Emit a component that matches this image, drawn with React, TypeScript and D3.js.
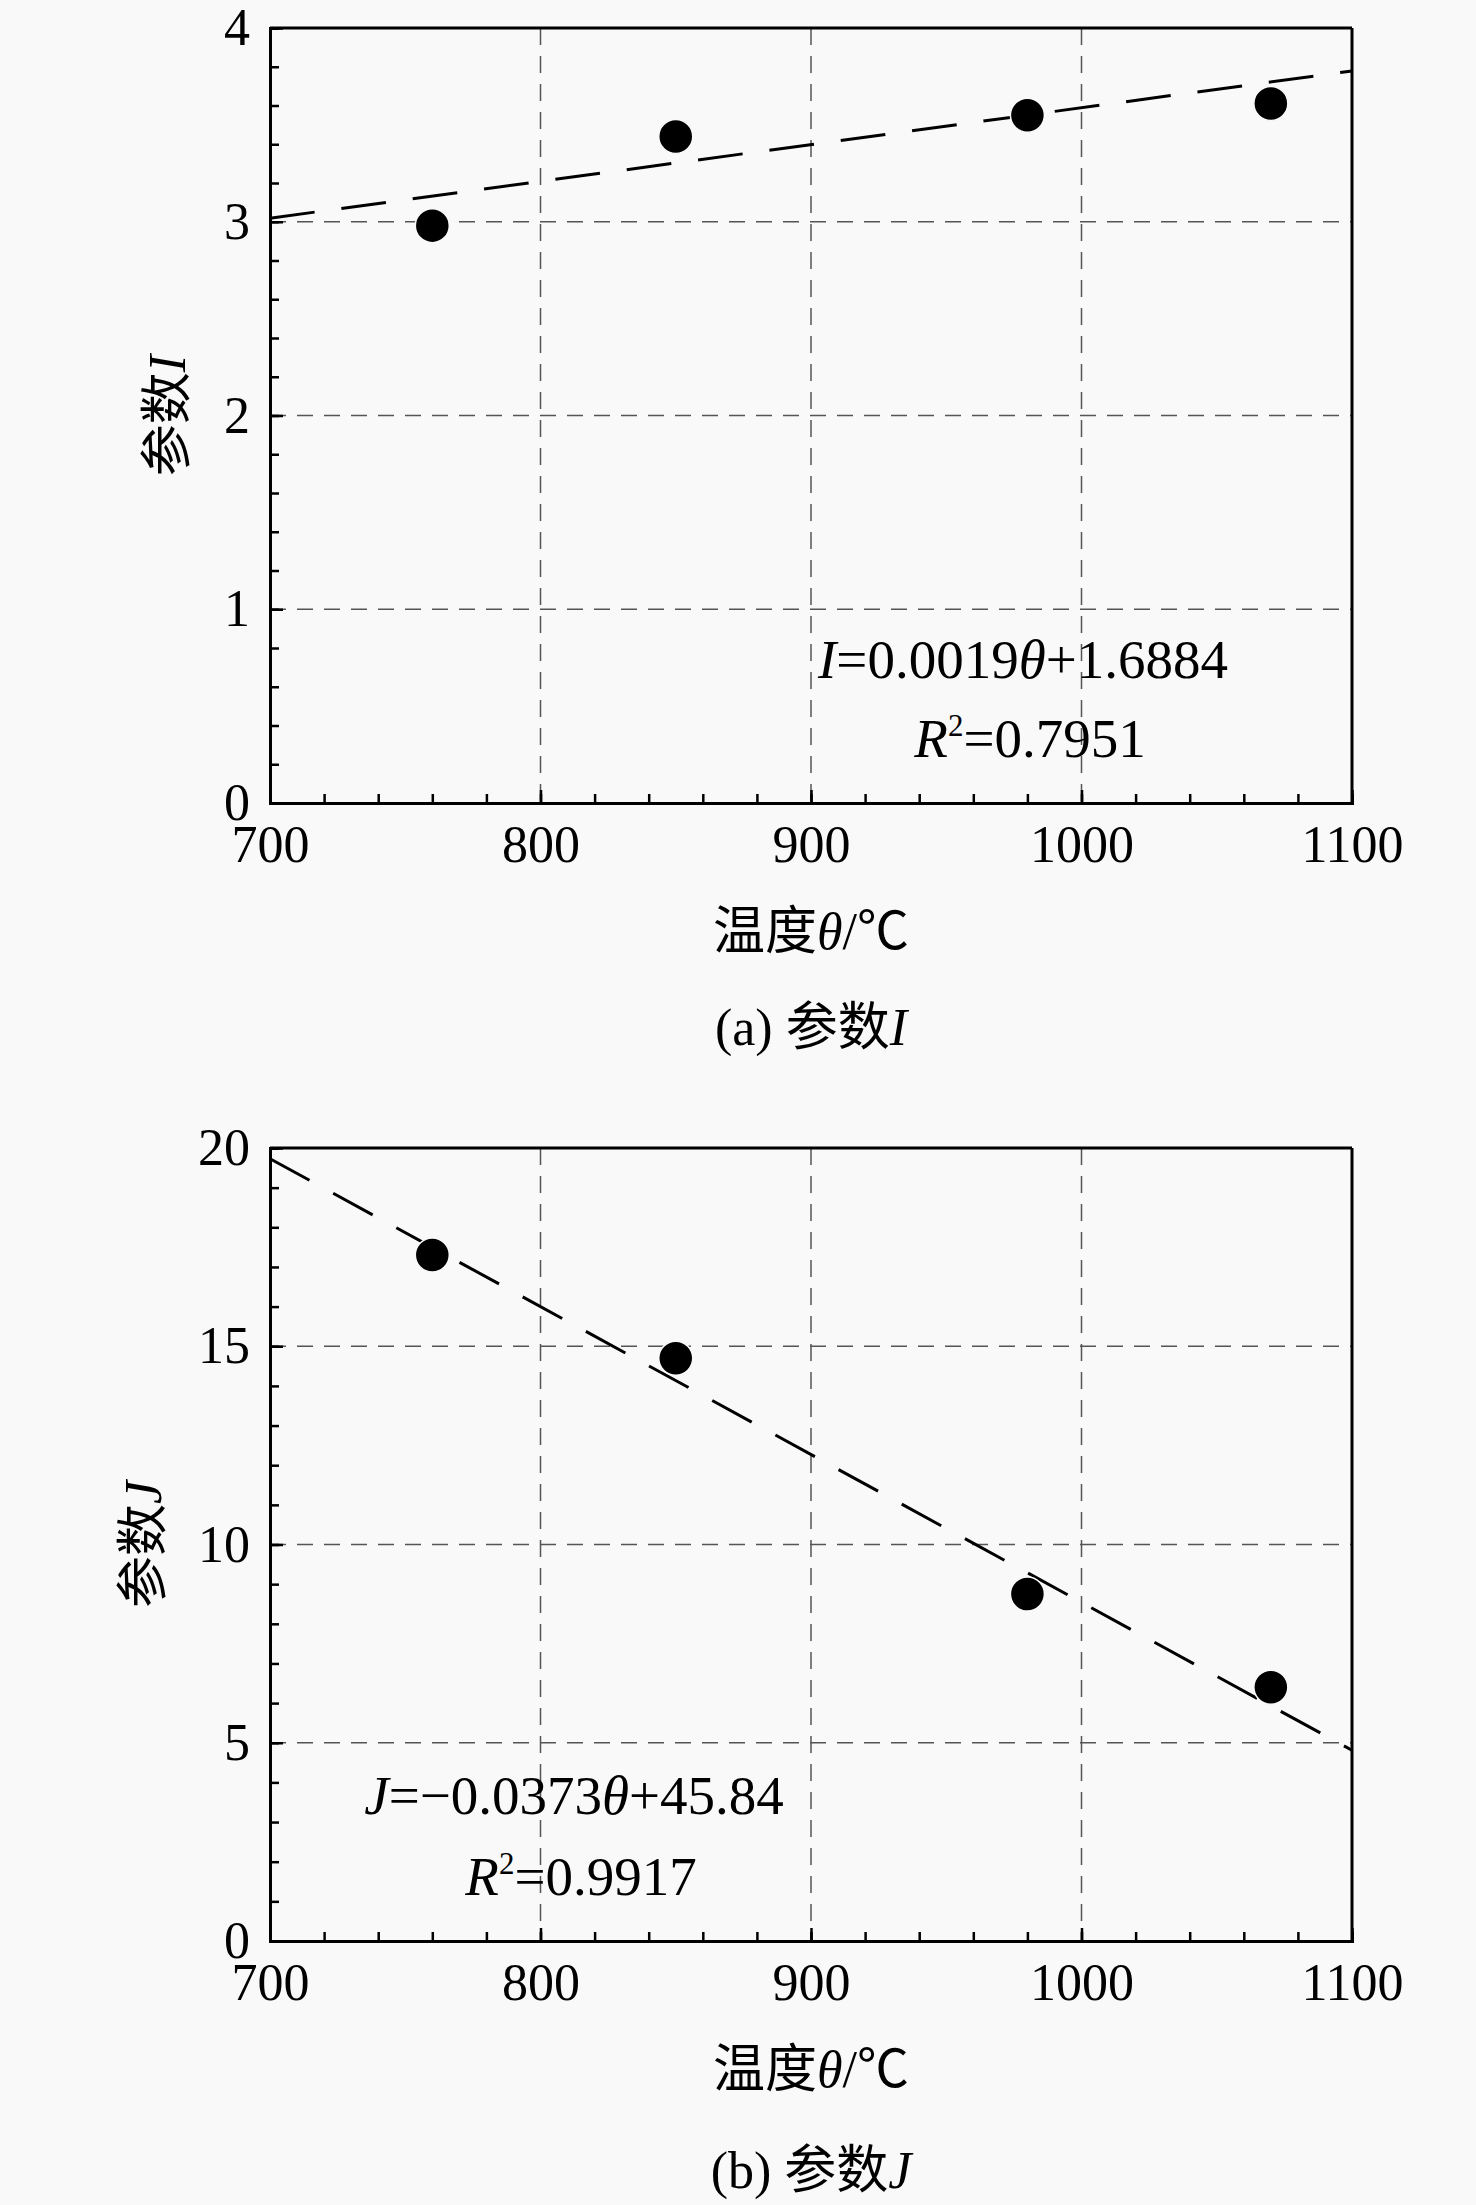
import React, { useRef, useEffect } from "react";
import * as d3 from "d3";

// ---------------------------------------------------------------------------
// DATA
// ---------------------------------------------------------------------------
const tempTicks = [700, 800, 900, 1000, 1100];
const sampleTemps = [760, 850, 980, 1070];
const paramI = [2.98, 3.44, 3.55, 3.61];
const paramJ = [17.3, 14.7, 8.75, 6.4];
const yTicksI = [0, 1, 2, 3, 4];
const yTicksJ = [0, 5, 10, 15, 20];
const fitI = { slope: 0.0019, intercept: 1.6884 };
const fitJ = { slope: -0.0373, intercept: 45.84 };

const W = 1476;
const H = 2205;
const FONT = "'Liberation Serif', 'Times New Roman', 'Noto Sans CJK SC', serif";

interface PanelCfg {
  top: number;
  bottom: number;
  yTicks: number[];
  yMinorStep: number;
  values: number[];
  fit: { slope: number; intercept: number };
  symbol: string;
  letter: string;
  slopeText: string;
  interceptText: string;
  r2Text: string;
  eqX: number;
  eqY: number;
  r2X: number;
  r2Y: number;
  yLabelX: number;
  captionY: number;
}

const panels: PanelCfg[] = [
  {
    top: 28,
    bottom: 803,
    yTicks: yTicksI,
    yMinorStep: 0.2,
    values: paramI,
    fit: fitI,
    symbol: "I",
    letter: "a",
    slopeText: "0.0019",
    interceptText: "+1.6884",
    r2Text: "=0.7951",
    eqX: 1023,
    eqY: 678,
    r2X: 1030,
    r2Y: 757,
    yLabelX: 185,
    captionY: 1045,
  },
  {
    top: 1148,
    bottom: 1941,
    yTicks: yTicksJ,
    yMinorStep: 1,
    values: paramJ,
    fit: fitJ,
    symbol: "J",
    letter: "b",
    slopeText: "\u22120.0373",
    interceptText: "+45.84",
    r2Text: "=0.9917",
    eqX: 574,
    eqY: 1814,
    r2X: 581,
    r2Y: 1895,
    yLabelX: 161,
    captionY: 2188,
  },
];

const LEFT = 270;
const RIGHT = 1352;

export default function App() {
  const svgRef = useRef<SVGSVGElement | null>(null);

  useEffect(() => {
    const svg = d3.select(svgRef.current);
    svg.selectAll("*").remove();

    svg
      .append("rect")
      .attr("width", W)
      .attr("height", H)
      .attr("fill", "#f9f9f9");

    panels.forEach((p) => {
      const x = d3
        .scaleLinear()
        .domain([tempTicks[0], tempTicks[tempTicks.length - 1]])
        .range([LEFT, RIGHT]);
      const yMax = p.yTicks[p.yTicks.length - 1];
      const y = d3.scaleLinear().domain([0, yMax]).range([p.bottom, p.top]);

      const g = svg.append("g");

      // grid lines
      g.selectAll(".vgrid")
        .data(tempTicks.slice(1, -1))
        .join("line")
        .attr("x1", (d) => x(d))
        .attr("x2", (d) => x(d))
        .attr("y1", p.top)
        .attr("y2", p.bottom)
        .attr("stroke", "#555")
        .attr("stroke-width", 1.5)
        .attr("stroke-dasharray", "17,11");

      g.selectAll(".hgrid")
        .data(p.yTicks.slice(1, -1))
        .join("line")
        .attr("x1", LEFT)
        .attr("x2", RIGHT)
        .attr("y1", (d) => y(d))
        .attr("y2", (d) => y(d))
        .attr("stroke", "#555")
        .attr("stroke-width", 1.5)
        .attr("stroke-dasharray", "16,11");

      // fit line
      const dom = x.domain();
      const fitPts = dom.map((t) => [t, p.fit.slope * t + p.fit.intercept]);
      const line = d3
        .line<number[]>()
        .x((d) => x(d[0]))
        .y((d) => y(d[1]));
      g.append("path")
        .datum(fitPts)
        .attr("d", line)
        .attr("fill", "none")
        .attr("stroke", "#000")
        .attr("stroke-width", 3)
        .attr("stroke-dasharray", "45,27");

      // points
      g.selectAll(".pt")
        .data(sampleTemps)
        .join("circle")
        .attr("cx", (d) => x(d))
        .attr("cy", (_, i) => y(p.values[i]))
        .attr("r", 17)
        .attr("fill", "#000")
        .attr("stroke", "#f9f9f9")
        .attr("stroke-width", 1.5);

      // border (top, right)
      g.append("line")
        .attr("x1", LEFT)
        .attr("x2", RIGHT)
        .attr("y1", p.top)
        .attr("y2", p.top)
        .attr("stroke", "#000")
        .attr("stroke-width", 3);
      g.append("line")
        .attr("x1", RIGHT)
        .attr("x2", RIGHT)
        .attr("y1", p.top)
        .attr("y2", p.bottom)
        .attr("stroke", "#000")
        .attr("stroke-width", 3);

      // minor ticks
      const xMinor = d3.range(tempTicks[0], tempTicks[tempTicks.length - 1] + 1, 20);
      const yMinor = d3.range(0, yMax + p.yMinorStep / 2, p.yMinorStep);

      g.append("g")
        .attr("transform", `translate(0,${p.bottom})`)
        .call(d3.axisBottom(x).tickValues(xMinor).tickSize(-9).tickFormat(() => ""));
      g.append("g")
        .attr("transform", `translate(${LEFT},0)`)
        .call(d3.axisLeft(y).tickValues(yMinor).tickSize(-9).tickFormat(() => ""));

      // major axes
      const xAxis = g
        .append("g")
        .attr("transform", `translate(0,${p.bottom})`)
        .call(
          d3
            .axisBottom(x)
            .tickValues(tempTicks)
            .tickSizeInner(-13)
            .tickSizeOuter(0)
            .tickPadding(22)
            .tickFormat(d3.format("d"))
        );
      const yAxis = g
        .append("g")
        .attr("transform", `translate(${LEFT},0)`)
        .call(
          d3
            .axisLeft(y)
            .tickValues(p.yTicks)
            .tickSizeInner(-13)
            .tickSizeOuter(0)
            .tickPadding(20)
            .tickFormat(d3.format("d"))
        );

      g.selectAll(".domain").attr("stroke", "#000").attr("stroke-width", 3);
      g.selectAll(".tick line").attr("stroke", "#000").attr("stroke-width", 2.5);
      [xAxis, yAxis].forEach((a) =>
        a
          .selectAll("text")
          .attr("fill", "#000")
          .style("font-family", FONT)
          .style("font-size", "52px")
      );

      // equation
      const eq = g
        .append("text")
        .attr("x", p.eqX)
        .attr("y", p.eqY)
        .attr("text-anchor", "middle")
        .style("font-family", FONT)
        .style("font-size", "55px");
      eq.append("tspan").style("font-style", "italic").text(p.symbol);
      eq.append("tspan").text("=" + p.slopeText);
      eq.append("tspan").style("font-style", "italic").text("\u03b8");
      eq.append("tspan").text(p.interceptText);

      const r2 = g
        .append("text")
        .attr("x", p.r2X)
        .attr("y", p.r2Y)
        .attr("text-anchor", "middle")
        .style("font-family", FONT)
        .style("font-size", "55px");
      r2.append("tspan").style("font-style", "italic").text("R");
      r2.append("tspan").attr("dy", -21).style("font-size", "31px").text("2");
      r2.append("tspan").attr("dy", 21).text(p.r2Text);

      // axis titles
      const xt = g
        .append("text")
        .attr("x", (LEFT + RIGHT) / 2)
        .attr("y", p.bottom + 146)
        .attr("text-anchor", "middle")
        .style("font-family", FONT)
        .style("font-size", "52px");
      xt.append("tspan").text("温度");
      xt.append("tspan").style("font-style", "italic").text("\u03b8");
      xt.append("tspan").text("/\u2103");

      const yt = g
        .append("text")
        .attr("transform", `translate(${p.yLabelX},${(p.top + p.bottom) / 2}) rotate(-90)`)
        .attr("text-anchor", "middle")
        .style("font-family", FONT)
        .style("font-size", "52px");
      yt.append("tspan").text("参数");
      yt.append("tspan").style("font-style", "italic").text(p.symbol);

      const cap = g
        .append("text")
        .attr("x", (LEFT + RIGHT) / 2)
        .attr("y", p.captionY)
        .attr("text-anchor", "middle")
        .style("font-family", FONT)
        .style("font-size", "52px");
      cap.append("tspan").text(`(${p.letter}) 参数`);
      cap.append("tspan").style("font-style", "italic").text(p.symbol);
    });
  }, []);

  return (
    <svg
      ref={svgRef}
      width={W}
      height={H}
      style={{ position: "absolute", left: 0, top: 0, display: "block" }}
    />
  );
}
